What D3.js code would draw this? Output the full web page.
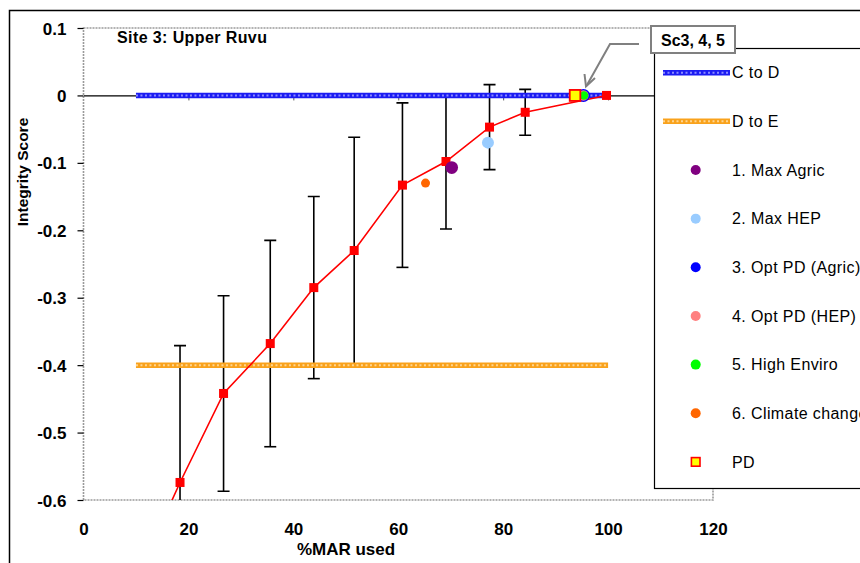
<!DOCTYPE html>
<html>
<head>
<meta charset="utf-8">
<script src="https://cdn.jsdelivr.net/npm/d3@7"></script>
<style>
  html, body { margin: 0; padding: 0; background: #fff; }
  svg { display: block; font-family: "Liberation Sans", Arial, sans-serif; }
</style>
</head>
<body>
<div id="chart"></div>
<script>
// ---- data ----
const xTicks = [0, 20, 40, 60, 80, 100, 120];
const yTicks = [0.1, 0, -0.1, -0.2, -0.3, -0.4, -0.5, -0.6];

// flow curve (%MAR used vs integrity score) with error bars
const curveX   = [10.2, 18.4, 26.7, 35.6, 43.9, 51.6, 60.8, 69.1, 77.4, 84.2, 99.7];
const curveY   = [-0.715, -0.574, -0.442, -0.368, -0.285, -0.230, -0.133, -0.098, -0.047, -0.025, 0.0];
const curveErr = [null, 0.203, 0.145, 0.153, 0.135, 0.168, 0.122, 0.100, 0.063, 0.034, 0];

// class boundaries
const bandX = [10, 100];
const cToD = [0, 0];
const dToE = [-0.4, -0.4];

// scenarios
const scenarioNames = ["1. Max Agric", "2. Max HEP", "3. Opt PD (Agric)", "4. Opt PD (HEP)", "5. High Enviro", "6. Climate change"];
const scenarioX = [70.2, 77.1, 95.3, 95.3, 95.4, 65.2];
const scenarioY = [-0.107, -0.070, 0.0, 0.0, 0.0, -0.130];

// present day
const pdX = [93.7];
const pdY = [0.0];

// ---- styles ----
const scenarioColors = ["#800080", "#99ccff", "#0000ff", "#ff8080", "#00ff00", "#ff6600"];
const scenarioRadius = [6.3, 6, 6.5, 5.2, 4.3, 4.5];

const W = 860, H = 563;
const svg = d3.select("#chart").append("svg").attr("width", W).attr("height", H);

const x = d3.scaleLinear().domain([0, 120]).range([83.5, 713]);
const y = d3.scaleLinear().domain([-0.6, 0.1]).range([500, 28]);

// outer chart frame (runs off the right/bottom edge)
svg.append("rect").attr("x", 9.5).attr("y", 10.5).attr("width", 1000).attr("height", 800)
  .attr("fill", "none").attr("stroke", "#000").attr("stroke-width", 1.5);

svg.append("defs").append("clipPath").attr("id", "plotclip")
  .append("rect").attr("x", x(0)).attr("y", y(0.1)).attr("width", x(120) - x(0)).attr("height", y(-0.6) - y(0.1));

// plot area border (dotted grey)
svg.append("rect").attr("x", x(0)).attr("y", y(0.1))
  .attr("width", x(120) - x(0)).attr("height", y(-0.6) - y(0.1))
  .attr("fill", "none").attr("stroke", "#9a9a9a").attr("stroke-width", 1.6).attr("stroke-dasharray", "2,1");

// y axis: black ticks + bold labels
const yAxis = svg.append("g").attr("transform", `translate(${x(0)},0)`)
  .call(d3.axisLeft(y).tickValues(yTicks).tickSizeInner(6).tickSizeOuter(0)
    .tickFormat(d => d === 0 ? "0" : d.toFixed(1)));
yAxis.select(".domain").remove();
yAxis.selectAll(".tick line").attr("stroke", "#000").attr("stroke-width", 1.2);
yAxis.selectAll(".tick text").attr("x", -17).attr("dy", "0.36em")
  .attr("font-size", 17).attr("font-weight", "bold").attr("fill", "#000")
  .attr("font-family", "Liberation Sans, Arial, sans-serif");

// x axis line sits at y = 0, labels at the bottom
const xLine = svg.append("g").attr("transform", `translate(0,${y(0)})`)
  .call(d3.axisBottom(x).tickValues(xTicks.slice(1, -1)).tickSizeInner(5).tickSizeOuter(0).tickFormat(""));
xLine.select(".domain").attr("stroke", "#000").attr("stroke-width", 1.2);
xLine.selectAll(".tick line").attr("stroke", "#555");

const xLab = svg.append("g").attr("transform", `translate(0,${y(-0.6)})`)
  .call(d3.axisBottom(x).tickValues(xTicks).tickSize(0).tickFormat(d3.format("d")));
xLab.select(".domain").remove();
xLab.selectAll(".tick text").attr("y", 0).attr("dy", 35)
  .attr("font-size", 17).attr("font-weight", "bold").attr("fill", "#000")
  .attr("font-family", "Liberation Sans, Arial, sans-serif");

// axis titles
svg.append("text").attr("x", 346).attr("y", 555).attr("text-anchor", "middle")
  .attr("font-size", 17).attr("font-weight", "bold").text("%MAR used");
svg.append("text").attr("transform", "translate(28,172) rotate(-90)").attr("text-anchor", "middle")
  .attr("font-size", 15.5).attr("font-weight", "bold").text("Integrity Score");

// title
svg.append("text").attr("x", 117).attr("y", 43)
  .attr("font-size", 16).attr("font-weight", "bold").attr("letter-spacing", 0.4).text("Site 3: Upper Ruvu");

const plot = svg.append("g").attr("clip-path", "url(#plotclip)");

// error bars
const errData = curveX.map((d, i) => ({ x: d, y: curveY[i], e: curveErr[i] })).filter(d => d.e);
const eb = plot.append("g").attr("stroke", "#000").attr("stroke-width", 1.6);
eb.selectAll("line.v").data(errData).join("line").attr("class", "v")
  .attr("x1", d => x(d.x)).attr("x2", d => x(d.x))
  .attr("y1", d => y(d.y + d.e)).attr("y2", d => y(d.y - d.e));
eb.selectAll("line.t").data(errData).join("line").attr("class", "t")
  .attr("x1", d => x(d.x) - 6).attr("x2", d => x(d.x) + 6)
  .attr("y1", d => y(d.y + d.e)).attr("y2", d => y(d.y + d.e));
eb.selectAll("line.b").data(errData).join("line").attr("class", "b")
  .attr("x1", d => x(d.x) - 6).attr("x2", d => x(d.x) + 6)
  .attr("y1", d => y(d.y - d.e)).attr("y2", d => y(d.y - d.e));

// textured class boundary lines
function bandLine(g, ys, base, light, x0, x1, y0) {
  const line = d3.line().x((d, i) => x0 != null ? [x0, x1][i] : x(bandX[i])).y(d => y0 != null ? y0 : y(d));
  g.append("path").datum(ys).attr("d", line).attr("fill", "none").attr("stroke", base).attr("stroke-width", 5.5);
  g.append("path").datum(ys).attr("d", line).attr("fill", "none").attr("stroke", light)
    .attr("stroke-width", 2).attr("stroke-dasharray", "2,2.5");
}
bandLine(plot, cToD, "#1c1cf2", "#8c8cff");
bandLine(plot, dToE, "#f9a21c", "#ffd590");

// red curve
plot.append("path").datum(curveX.map((d, i) => [d, curveY[i]]))
  .attr("d", d3.line().x(d => x(d[0])).y(d => y(d[1])))
  .attr("fill", "none").attr("stroke", "#ff0000").attr("stroke-width", 1.6);
plot.selectAll("rect.curve").data(curveX.map((d, i) => [d, curveY[i]])).join("rect").attr("class", "curve")
  .attr("x", d => x(d[0]) - 4.5).attr("y", d => y(d[1]) - 4.5).attr("width", 9).attr("height", 9)
  .attr("fill", "#ff0000");

// scenario points
plot.selectAll("circle.sc").data(scenarioX.map((d, i) => i)).join("circle").attr("class", "sc")
  .attr("cx", i => x(scenarioX[i])).attr("cy", i => y(scenarioY[i])).attr("r", i => scenarioRadius[i])
  .attr("fill", i => scenarioColors[i]);

// present day
plot.selectAll("rect.pd").data(pdX.map((d, i) => [d, pdY[i]])).join("rect").attr("class", "pd")
  .attr("x", d => x(d[0]) - 5.3).attr("y", d => y(d[1]) - 5.5).attr("width", 10.6).attr("height", 11)
  .attr("fill", "#ffff00").attr("stroke", "#ff0000").attr("stroke-width", 1.8);

// legend
const lg = svg.append("g");
lg.append("rect").attr("x", 654.5).attr("y", 48.5).attr("width", 400).attr("height", 440)
  .attr("fill", "#fff").attr("stroke", "#000").attr("stroke-width", 1.2);
const legendNames = ["C to D", "D to E"].concat(scenarioNames, ["PD"]);
const ly = i => 72.7 + i * 48.65;
legendNames.forEach((name, i) => {
  lg.append("text").attr("x", 732).attr("y", ly(i)).attr("dy", "0.36em")
    .attr("font-size", 16).attr("letter-spacing", 0.4).text(name);
});
bandLine(lg, [0, 0], "#1c1cf2", "#8c8cff", 663, 730, ly(0));
bandLine(lg, [0, 0], "#f9a21c", "#ffd590", 663, 730, ly(1));
scenarioNames.forEach((n, i) => {
  lg.append("circle").attr("cx", 695.7).attr("cy", ly(i + 2)).attr("r", 5).attr("fill", scenarioColors[i]);
});
lg.append("rect").attr("x", 695.7 - 4.3).attr("y", ly(8) - 4.3).attr("width", 8.6).attr("height", 8.6)
  .attr("fill", "#ffff00").attr("stroke", "#ff0000").attr("stroke-width", 1.6);

// callout "Sc3, 4, 5"
const co = svg.append("g");
co.append("polyline").attr("points", "639,44 610,44 587,85")
  .attr("fill", "none").attr("stroke", "#808080").attr("stroke-width", 2);
co.append("polyline").attr("points", "584.5,74 586,86.5 595,78")
  .attr("fill", "none").attr("stroke", "#808080").attr("stroke-width", 2);
co.append("rect").attr("x", 651).attr("y", 26).attr("width", 84).attr("height", 27)
  .attr("fill", "#fff").attr("stroke", "#808080").attr("stroke-width", 2);
co.append("text").attr("x", 693).attr("y", 46).attr("text-anchor", "middle")
  .attr("font-size", 16).attr("font-weight", "bold").text("Sc3, 4, 5");
</script>
</body>
</html>
